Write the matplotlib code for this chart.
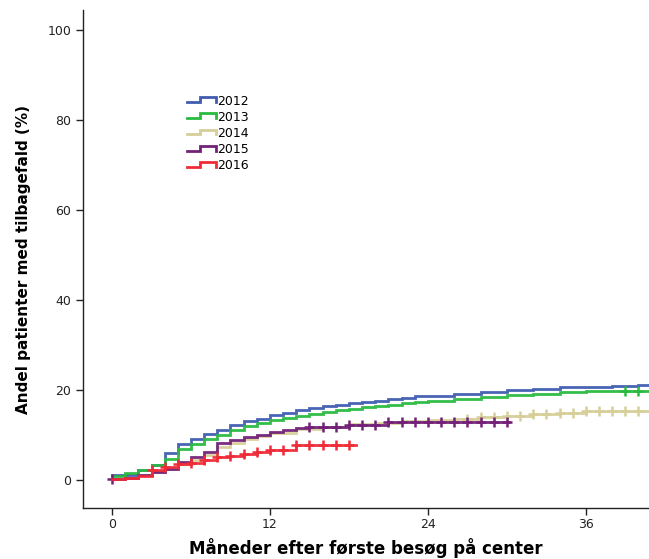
import matplotlib
matplotlib.use("Agg")
import matplotlib.pyplot as plt
import numpy as np
from matplotlib.lines import Line2D
from matplotlib.legend_handler import HandlerBase

# Kaplan-Meier style cumulative relapse curves (months, %)
t_2012 = [0, 2, 3, 4, 5, 6, 7, 8, 9, 10, 11, 12, 13, 14, 15, 16, 17, 18, 19, 20,
          21, 22, 23, 24, 26, 28, 30, 32, 34, 36, 38, 40, 41]
y_2012 = [1.2, 2.2, 3.3, 6.0, 8.0, 9.1, 10.2, 11.1, 12.2, 13.2, 13.7, 14.4, 15.0,
          15.6, 16.0, 16.4, 16.8, 17.1, 17.4, 17.7, 18.0, 18.3, 18.6, 18.8, 19.2,
          19.6, 20.0, 20.3, 20.6, 20.8, 21.0, 21.2, 21.2]
c_2012 = []

t_2013 = [0, 1, 2, 3, 4, 5, 6, 7, 8, 9, 10, 11, 12, 13, 14, 15, 16, 17, 18, 19,
          20, 21, 22, 23, 24, 26, 28, 30, 32, 34, 36, 38, 41]
y_2013 = [1.0, 1.5, 2.2, 3.3, 4.8, 6.9, 8.0, 9.1, 10.0, 11.1, 12.0, 12.6, 13.3,
          13.8, 14.3, 14.8, 15.2, 15.6, 15.9, 16.2, 16.5, 16.8, 17.1, 17.4, 17.7,
          18.1, 18.5, 18.9, 19.2, 19.5, 19.7, 19.9, 19.9]
c_2013 = [39, 40]

t_2014 = [0, 1, 2, 3, 4, 5, 6, 7, 8, 9, 10, 11, 12, 14, 16, 18, 20, 22, 24, 26,
          28, 30, 32, 34, 36, 41]
y_2014 = [0.3, 0.6, 1.2, 1.9, 2.6, 3.5, 4.5, 5.6, 7.4, 8.3, 9.2, 9.8, 10.4, 11.3,
          11.9, 12.4, 12.8, 13.1, 13.4, 13.7, 14.0, 14.3, 14.6, 14.9, 15.3, 15.3]
c_2014 = [27, 28, 29, 30, 31, 32, 33, 34, 35, 36, 37, 38, 39, 40]

t_2015 = [0, 1, 2, 3, 4, 5, 6, 7, 8, 9, 10, 11, 12, 13, 14, 15, 18, 21, 30.2]
y_2015 = [0.2, 0.5, 1.2, 1.8, 2.5, 4.0, 5.1, 6.3, 8.3, 8.9, 9.6, 10.0, 10.6,
          11.2, 11.6, 11.8, 12.3, 12.9, 12.9]
c_2015 = [0, 15, 16, 17, 18, 19, 20, 21, 22, 23, 24, 25, 26, 27, 28, 29, 30]

t_2016 = [0, 1, 2, 3, 4, 5, 6, 7, 8, 9, 10, 11, 12, 14, 18.5]
y_2016 = [0.2, 0.5, 0.9, 2.2, 2.9, 3.5, 3.8, 4.4, 5.1, 5.3, 5.8, 6.2, 6.7, 7.8, 7.8]
c_2016 = [3, 4, 5, 6, 7, 8, 9, 10, 11, 12, 13, 14, 15, 16, 17, 18]

series = [
    ("2012", t_2012, y_2012, c_2012, (0.25, 0.36, 0.69)),
    ("2013", t_2013, y_2013, c_2013, (0.16, 0.73, 0.25)),
    ("2014", t_2014, y_2014, c_2014, (0.84, 0.81, 0.60)),
    ("2015", t_2015, y_2015, c_2015, (0.45, 0.13, 0.47)),
    ("2016", t_2016, y_2016, c_2016, (0.94, 0.17, 0.22)),
]
x_ticks = [0, 12, 24, 36]
y_ticks = [0, 20, 40, 60, 80, 100]


class StepHandler(HandlerBase):
    """Legend key drawn as a small step, like SPSS survival plots."""

    def create_artists(self, legend, orig, xd, yd, w, h, fontsize, trans):
        xs = np.array([0, 0.45, 0.45, 1.0, 1.0]) * w - xd
        ys = np.array([0.3, 0.3, 0.85, 0.85, 0.3]) * h - yd
        ln = Line2D(xs, ys, color=orig.get_color(), lw=orig.get_linewidth(),
                    solid_joinstyle="miter", transform=trans)
        return [ln]


fig = plt.figure(figsize=(6.49, 5.59), dpi=100)
ax = fig.add_axes([0.128, 0.091, 0.872, 0.891])

handles = []
for label, t, y, cens, col in series:
    t = np.asarray(t, float); y = np.asarray(y, float)
    ln, = ax.plot(t, y, drawstyle="steps-post", color=col, lw=2.0, alpha=0.95,
                  solid_joinstyle="miter", label=label)
    if cens:
        idx = np.searchsorted(t, cens, side="right") - 1
        ax.plot(cens, y[idx], ls="none", marker="+", ms=7.5, mew=1.8, color=col)
    handles.append(ln)

ax.set_xlim(-2.2, 40.8)
ax.set_ylim(-6.2, 104.4)
ax.set_xticks(x_ticks)
ax.set_yticks(y_ticks)
ax.tick_params(direction="out", length=5, width=1, labelsize=9, colors="#222222")
ax.tick_params(axis="x", pad=2)
for s in ("top", "right"):
    ax.spines[s].set_visible(False)
for s in ("left", "bottom"):
    ax.spines[s].set_linewidth(1.0)
    ax.spines[s].set_color("#222222")

ax.set_xlabel("Måneder efter første besøg på center", fontsize=12,
              fontweight="bold", labelpad=5)
ax.set_ylabel("Andel patienter med tilbagefald (%)", fontsize=11,
              fontweight="bold", labelpad=12)

leg = ax.legend(handles=handles, handler_map={Line2D: StepHandler()},
                loc="upper left", bbox_to_anchor=(0.175, 0.84), frameon=False,
                fontsize=9, handlelength=2.3, handletextpad=0.1,
                labelspacing=0.25, borderaxespad=0)

fig.savefig("out.png", dpi=100)
